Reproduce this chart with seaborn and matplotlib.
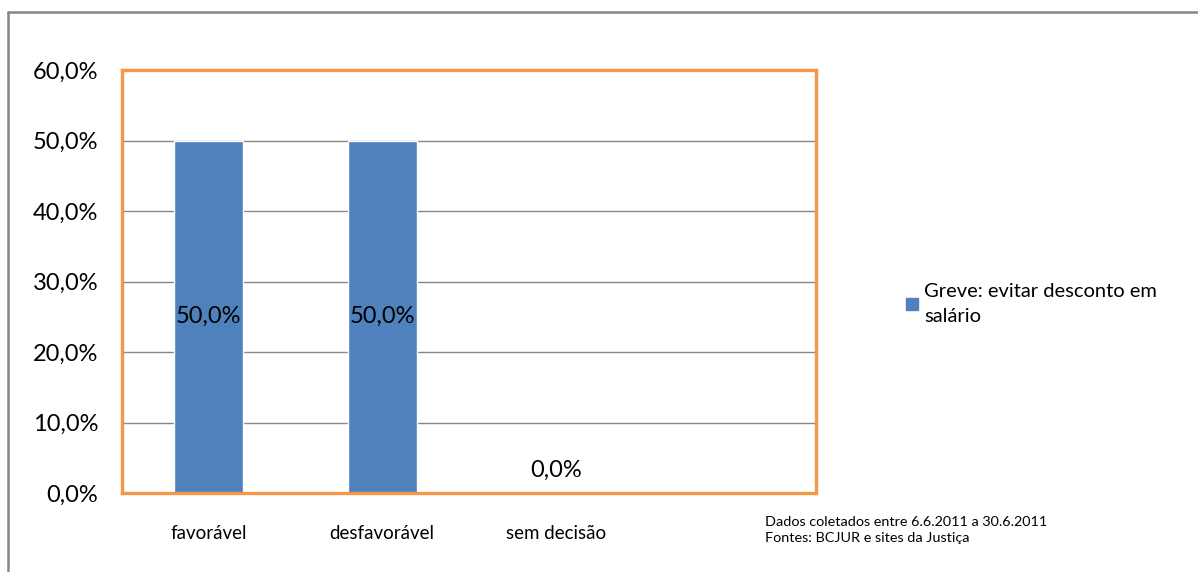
import matplotlib
matplotlib.use("Agg")
import matplotlib.pyplot as plt
import seaborn as sns
import pandas as pd
from matplotlib.lines import Line2D
from matplotlib.patches import Patch

categories = ["favorável", "desfavorável", "sem decisão"]
values = [50.0, 50.0, 0.0]
series_name = "Greve: evitar desconto em\nsalário"
yticks = [0, 10, 20, 30, 40, 50, 60]
ytick_labels = ["0,0%", "10,0%", "20,0%", "30,0%", "40,0%", "50,0%", "60,0%"]
value_labels = ["50,0%", "50,0%", "0,0%"]
footnote = "Dados coletados entre 6.6.2011 a 30.6.2011\nFontes: BCJUR e sites da Justiça"

sns.set_theme(style="white")
plt.rcParams["font.family"] = ["Lato", "DejaVu Sans"]

BLUE = "#4F81BD"
ORANGE = "#F79646"
GRID = "#868686"

df = pd.DataFrame({"cat": categories, "val": values})

fig = plt.figure(figsize=(11.98, 5.72), dpi=100)
ax = fig.add_axes([122/1198, 1-493/572, (816-122)/1198, (493-70)/572])

sns.barplot(data=df, x="cat", y="val", color=BLUE, width=0.4, ax=ax,
            saturation=1, zorder=3)

ax.set_xlim(-0.5, 3.5)
ax.set_ylim(0, 60)
ax.set_yticks(yticks)
ax.set_yticklabels(ytick_labels, fontsize=17, color="#000000")
ax.tick_params(axis="y", length=0, pad=17)
ax.tick_params(axis="x", length=0, pad=23, labelsize=13.5, labelcolor="#000000")
ax.set_xlabel("")
ax.set_ylabel("")
ax.yaxis.grid(True, color=GRID, linewidth=1.0, zorder=0)
ax.set_axisbelow(True)
for s in ax.spines.values():
    s.set_visible(True)
    s.set_color(ORANGE)
    s.set_linewidth(2.4)
    s.set_zorder(5)

cont = ax.containers[0]
center_labels = [l if v > 0 else "" for l, v in zip(value_labels, values)]
edge_labels = [l if v <= 0 else "" for l, v in zip(value_labels, values)]
ax.bar_label(cont, labels=center_labels, label_type="center", fontsize=17,
             color="#000000")
ax.bar_label(cont, labels=edge_labels, label_type="edge", padding=9, fontsize=17,
             color="#000000")

handle = Patch(facecolor=BLUE, edgecolor=BLUE)
leg = fig.legend([handle], [series_name], loc="upper left",
                 bbox_to_anchor=(906/1198, 1-283/572), frameon=False,
                 fontsize=14.5, handlelength=0.6, handleheight=0.6,
                 handletextpad=0.3, borderaxespad=0, borderpad=0)
for t in leg.get_texts():
    t.set_color("#000000")
    t.set_linespacing(1.6)

fig.text(765/1198, 1-516/572, footnote, fontsize=10.4, va="top", ha="left",
         color="#000000", linespacing=1.45)

# outer chart border (top and left visible)
fig.add_artist(Line2D([8/1198, 1.0], [1-12/572, 1-12/572], transform=fig.transFigure,
                      color=GRID, linewidth=1.8))
fig.add_artist(Line2D([8/1198, 8/1198], [0.0, 1-12/572], transform=fig.transFigure,
                      color=GRID, linewidth=1.8))

fig.savefig("out.png", dpi=100, facecolor="white")
